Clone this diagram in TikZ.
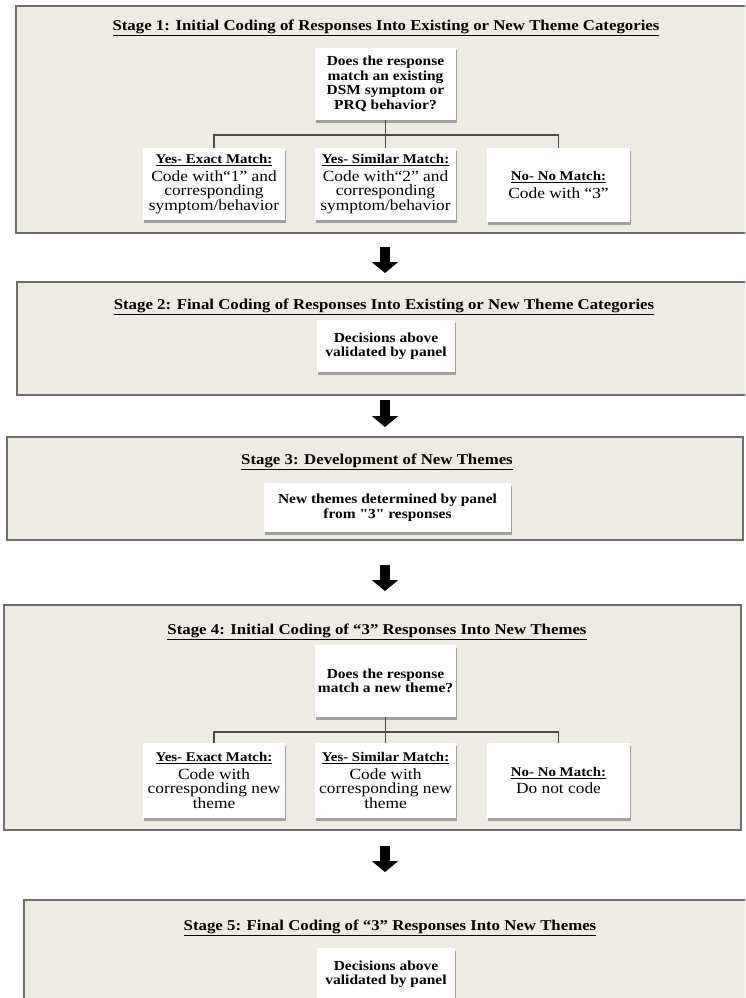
\documentclass[tikz,border=0pt]{standalone}
\usepackage{fontspec}
\setmainfont[FakeStretch=1.12]{Liberation Serif}
\newfontfamily\qfont[FakeStretch=1.12,Ligatures=TeXOff]{Liberation Serif}
\usetikzlibrary{shadows,arrows.meta}
\definecolor{stagefill}{HTML}{EEEBE4}
\definecolor{stageborder}{HTML}{6E6E6E}
\definecolor{connline}{HTML}{4A4A4A}
\tikzset{
 stagebox/.style={draw=stageborder, line width=2.5pt, fill=stagefill, inner sep=0pt},
 titletext/.style={font=\bfseries\fontsize{15}{15}\selectfont, inner sep=0pt},
 whitebox/.style={fill=white, draw=none, inner sep=2pt, align=center,
   drop shadow={shadow xshift=0.8pt, shadow yshift=-2.5pt, fill=black!45, opacity=0.8}},
 qtext/.style={font=\bfseries\fontsize{13.8}{14.5}\selectfont},
 ctext/.style={font=\fontsize{15.5}{14.5}\selectfont},
 conn/.style={draw=connline, line width=1.6pt},
 bigarrow/.style={line width=10pt, -{Triangle[width=26pt,length=11pt]}, black}
}
\newcommand{\hdrtext}[1]{{\bfseries\fontsize{13.3}{14.5}\selectfont\underline{#1}}}
\newcommand{\sq}{{\qfont\bfseries "}}
\begin{document}
\begin{tikzpicture}[x=1pt,y=-1pt]
\useasboundingbox (0,0) rectangle (745,998);
\clip (0,0) rectangle (745,998);
% stage boxes
\node[stagebox, minimum width=744pt, minimum height=227pt] (s1) at (388,119.5) {};
\node[stagebox, minimum width=743pt, minimum height=113pt] (s2) at (388.5,338.5) {};
\node[stagebox, minimum width=736pt, minimum height=103pt] (s3) at (375,488.5) {};
\node[stagebox, minimum width=737pt, minimum height=225pt] (s4) at (372.5,717.5) {};
\node[stagebox, minimum width=736pt, minimum height=110pt] (s5) at (392,955) {};
% titles
\node[titletext] (t1) at (386,28) {\underline{Stage 1: Initial Coding of Responses Into Existing or New Theme Categories}};
\node[titletext] (t2) at (384,307) {\underline{Stage 2: Final Coding of Responses Into Existing or New Theme Categories}};
\node[titletext] (t3) at (377,462) {\underline{Stage 3: Development of New Themes}};
\node[titletext] (t4) at (377,632) {\underline{Stage 4: Initial Coding of “3” Responses Into New Themes}};
\node[titletext] (t5) at (390,928) {\underline{Stage 5: Final Coding of “3” Responses Into New Themes}};
% stage 1
\node[whitebox, qtext, minimum width=141pt, minimum height=72pt] (q1) at (385.5,84) {Does the response\\match an existing\\DSM symptom or\\PRQ behavior?};
\node[whitebox, ctext, minimum width=142pt, minimum height=72pt] (c11) at (214,184) {\hdrtext{Yes- Exact Match:}\\[3pt]Code with“1” and\\corresponding\\symptom/behavior};
\node[whitebox, ctext, minimum width=141pt, minimum height=72pt] (c12) at (385.5,184) {\hdrtext{Yes- Similar Match:}\\[3pt]Code with“2” and\\corresponding\\symptom/behavior};
\node[whitebox, ctext, minimum width=143pt, minimum height=74pt] (c13) at (558.5,185) {\hdrtext{No- No Match:}\\[3pt]Code with “3”};
\coordinate (b1) at (385.5,135);
\draw[conn] (q1.south) -- (b1);
\draw[conn] (c11.north) -- (c11.north |- b1) -- (c13.north |- b1) -- (c13.north);
\draw[conn] (b1) -- (c12.north);
% stage 2
\node[whitebox, qtext, minimum width=138pt, minimum height=52pt] (d2) at (386,346) {Decisions above\\validated by panel};
% stage 3
\node[whitebox, qtext, minimum width=247pt, minimum height=49pt] (n3) at (387.5,507.5) {New themes determined by panel\\from \sq3\sq\ responses};
% stage 4
\node[whitebox, qtext, minimum width=141pt, minimum height=72pt] (q4) at (385.5,681) {Does the response\\match a new theme?};
\node[whitebox, ctext, minimum width=142pt, minimum height=75pt] (c41) at (214,780.5) {\hdrtext{Yes- Exact Match:}\\[3pt]Code with\\corresponding new\\theme};
\node[whitebox, ctext, minimum width=141pt, minimum height=75pt] (c42) at (385.5,780.5) {\hdrtext{Yes- Similar Match:}\\[3pt]Code with\\corresponding new\\theme};
\node[whitebox, ctext, minimum width=143pt, minimum height=75pt] (c43) at (558.5,780.5) {\hdrtext{No- No Match:}\\[3pt]Do not code};
\coordinate (b4) at (385.5,732);
\draw[conn] (q4.south) -- (b4);
\draw[conn] (c41.north) -- (c41.north |- b4) -- (c43.north |- b4) -- (c43.north);
\draw[conn] (b4) -- (c42.north);
% stage 5
\node[whitebox, qtext, minimum width=138pt, minimum height=52pt] (d5) at (386,974) {Decisions above\\validated by panel};
% arrows between stages
\coordinate (a1s) at (385,247); \coordinate (a1e) at (385,273);
\coordinate (a2s) at (385,400); \coordinate (a2e) at (385,427);
\coordinate (a3s) at (385,565); \coordinate (a3e) at (385,591);
\coordinate (a4s) at (385,846); \coordinate (a4e) at (385,872);
\draw[bigarrow] (a1s) -- (a1e);
\draw[bigarrow] (a2s) -- (a2e);
\draw[bigarrow] (a3s) -- (a3e);
\draw[bigarrow] (a4s) -- (a4e);
\end{tikzpicture}
\end{document}
